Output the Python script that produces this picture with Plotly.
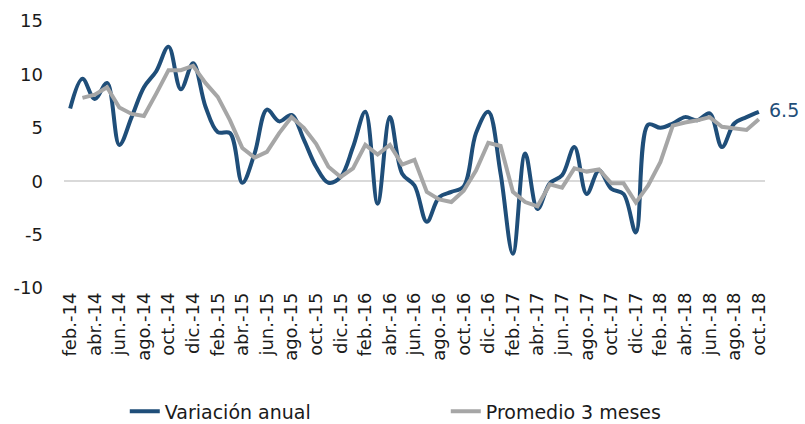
import plotly.graph_objects as go

month_abbr = ["ene.", "feb.", "mar.", "abr.", "may.", "jun.", "jul.", "ago.", "sep.", "oct.", "nov.", "dic."]
years = ["14", "15", "16", "17", "18"]

categories = []
for y in years:
    for m in month_abbr:
        categories.append(f"{m}-{y}")
categories = categories[1:categories.index("oct.-18") + 1]  # feb.-14 .. oct.-18

tick_labels = categories[::2]

variacion_anual = [
    6.8, 9.6, 7.7, 9.2, 3.4, 6.0, 8.8, 10.3, 12.6, 8.6,
    11.05, 7.0, 4.6, 4.5, -0.15, 2.6, 6.7, 5.6, 6.2, 3.9,
    1.35, -0.15, 0.4, 3.2, 6.5, -2.1, 6.0, 0.7, -0.4, -3.8,
    -1.5, -1.0, -0.5, 4.5, 6.5, 0.7, -6.8, 2.6, -2.6, -0.2,
    0.55, 3.2, -1.2, 1.0, -0.7, -1.2, -4.8, 5.3, 5.0, 5.4,
    6.0, 5.7, 6.35, 3.2, 5.4, 6.0, 6.5,
]

promedio_3m = [
    None, 7.8, 8.1, 8.8, 6.9, 6.3, 6.1, 8.2, 10.4, 10.4,
    10.8, 9.2, 7.9, 5.7, 3.1, 2.2, 2.75, 4.5, 6.0, 5.0,
    3.5, 1.35, 0.4, 1.2, 3.4, 2.5, 3.4, 1.55, 2.0, -1.0,
    -1.7, -1.95, -0.9, 1.0, 3.6, 3.3, -1.0, -1.95, -2.35, -0.3,
    -0.6, 1.2, 0.9, 1.1, -0.2, -0.2, -2.0, -0.4, 1.8, 5.2,
    5.5, 5.7, 6.0, 5.1, 4.95, 4.8, 5.8,
]

y_ticks = [-10, -5, 0, 5, 10, 15]
y_tick_text = ["-10", "-5", "0", "5", "10", "15"]

BLUE = "#1F4E79"
GRAY = "#A6A6A6"
TEXT = "#1a1a1a"
FONT = "DejaVu Sans"

fig = go.Figure()
fig.add_trace(go.Scatter(
    x=categories, y=variacion_anual, name="Variación anual", mode="lines",
    line=dict(color=BLUE, width=4, shape="spline", smoothing=1.0),
))
fig.add_trace(go.Scatter(
    x=categories, y=promedio_3m, name="Promedio 3 meses", mode="lines",
    line=dict(color=GRAY, width=4),
))

fig.add_annotation(
    x=categories[-1], y=variacion_anual[-1], text=f"{variacion_anual[-1]:.1f}",
    showarrow=False, xanchor="left", yanchor="middle", xshift=8, yshift=2,
    font=dict(family=FONT, size=19, color=BLUE),
)

fig.update_layout(
    width=805, height=424,
    margin=dict(l=64, r=40, t=21, b=136),
    paper_bgcolor="white", plot_bgcolor="white",
    font=dict(family=FONT, size=17, color=TEXT),
    showlegend=True,
    legend=dict(
        orientation="h", xref="container", yref="container",
        x=0.155, y=0.03, xanchor="left", yanchor="middle",
        font=dict(family=FONT, size=19, color=TEXT),
        entrywidth=276, entrywidthmode="pixels",
        traceorder="normal",
    ),
    xaxis=dict(
        type="category", categoryorder="array", categoryarray=categories,
        tickmode="array", tickvals=tick_labels, ticktext=tick_labels,
        tickangle=-90, showgrid=False, zeroline=False, showline=False,
        ticks="", range=[-0.5, len(categories) - 0.5], automargin=False,
        tickfont=dict(family=FONT, size=18, color=TEXT),
    ),
    yaxis=dict(
        range=[-10, 15], tickmode="array", tickvals=y_ticks, ticktext=y_tick_text,
        showgrid=False, zeroline=True, zerolinecolor="#D9D9D9", zerolinewidth=2,
        showline=False, ticks="", ticklabelstandoff=20, automargin=False,
        tickfont=dict(family=FONT, size=18, color=TEXT),
    ),
)

fig.write_html(
    "out.html",
    config={"displayModeBar": False},
    post_script="document.body.style.margin='0';",
)
